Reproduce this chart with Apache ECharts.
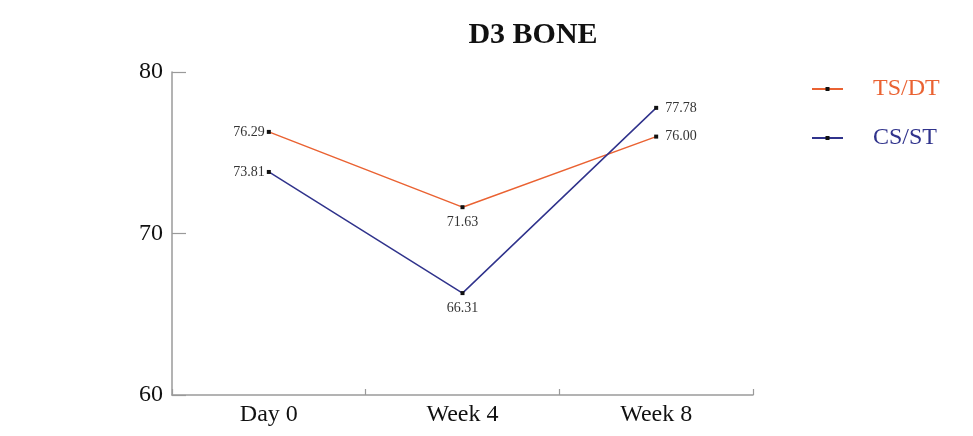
<!DOCTYPE html>
<html><head><meta charset="utf-8">
<script src="https://cdn.jsdelivr.net/npm/echarts@6/dist/echarts.min.js"></script>
<style>html,body{margin:0;padding:0;background:#fff}#c{width:973px;height:436px}</style>
</head><body><div id="c"></div>
<script>
const categories = ['Day 0', 'Week 4', 'Week 8'];
const tsdt = [76.29, 71.63, 76.00];
const csst = [73.81, 66.31, 77.78];
const labelPositions = ['left', 'bottom', 'right'];
const seriesNames = ['TS/DT', 'CS/ST'];
const seriesColors = ['#EA6232', '#30338C'];
const yTicks = {min: 60, max: 80, interval: 10};

const font = '"Liberation Serif", "Times New Roman", serif';
const labelDistances = [2, 6, 7];
function mk(vals) {
  return vals.map((v, i) => ({value: v, label: {position: labelPositions[i], distance: labelDistances[i]}}));
}
const chart = echarts.init(document.getElementById('c'));
chart.setOption({
  animation: false,
  title: {text: 'D3 BONE', left: 528, top: 15, textAlign: 'center',
    textStyle: {fontFamily: font, fontWeight: 'bold', fontSize: 30, color: '#111'}},
  legend: {orient: 'vertical', left: 806, top: 72, itemWidth: 31, itemHeight: 5, itemGap: 25,
    data: seriesNames.map((n, i) => ({name: n, textStyle: {color: seriesColors[i]}})),
    textStyle: {fontFamily: font, fontSize: 24, padding: [0, 0, 0, 25]}},
  grid: {left: 172, right: 220, top: 72, bottom: 41, containLabel: false},
  xAxis: {type: 'category', data: categories, boundaryGap: true,
    axisLine: {lineStyle: {color: '#9a9a9a', width: 1.5}},
    axisTick: {show: true, interval: 0, inside: true, length: 6, lineStyle: {color: '#9a9a9a', width: 1.2}},
    axisLabel: {fontFamily: font, fontSize: 24, color: '#111', margin: 8}},
  yAxis: {type: 'value', min: yTicks.min, max: yTicks.max, interval: yTicks.interval,
    splitLine: {show: false},
    axisLine: {show: true, lineStyle: {color: '#9a9a9a', width: 1.5}},
    axisTick: {show: true, inside: true, length: 14, lineStyle: {color: '#9a9a9a', width: 1.2}},
    axisLabel: {fontFamily: font, fontSize: 24, color: '#111', margin: 9}},
  series: seriesNames.map((n, i) => ({
    name: n, type: 'line', data: mk(i === 0 ? tsdt : csst),
    symbol: 'rect', symbolSize: 4,
    lineStyle: {color: seriesColors[i], width: 1.5},
    itemStyle: {color: '#111'},
    label: {show: true, formatter: p => p.value.toFixed(2), fontFamily: font, fontSize: 14, color: '#333'}
  }))
});
</script></body></html>
